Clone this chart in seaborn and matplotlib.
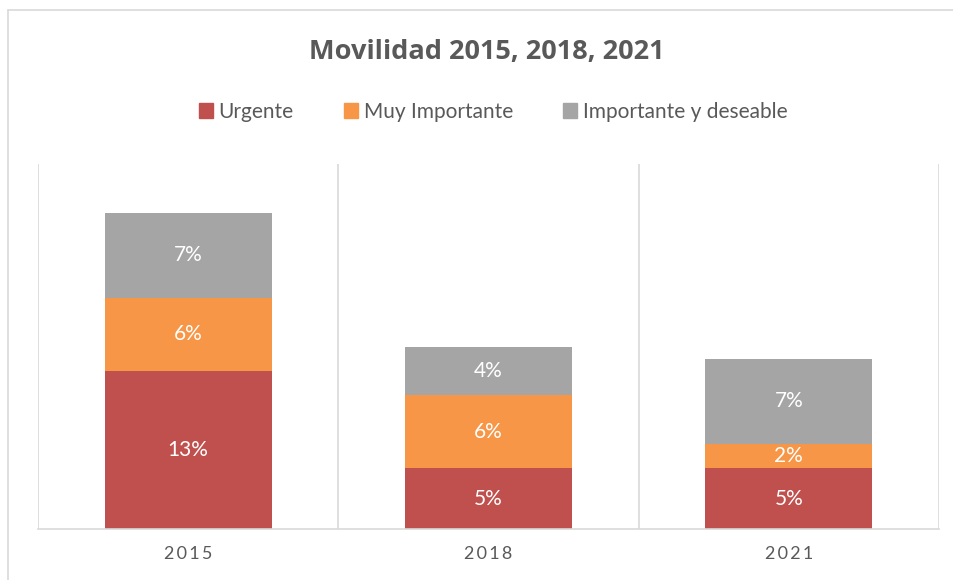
import numpy as np
import pandas as pd
import matplotlib
matplotlib.use("Agg")
import matplotlib.pyplot as plt
from matplotlib.lines import Line2D
import seaborn as sns

# Datos (fracción del total)
years = ["2015", "2018", "2021"]
urgente = [0.130, 0.050, 0.050]
muy_importante = [0.060, 0.060, 0.020]
importante_deseable = [0.070, 0.040, 0.070]

series = ["Urgente", "Muy Importante", "Importante y deseable"]
colors = ["#C0504D", "#F79646", "#A5A5A5"]
text_color = "#595959"
grid_color = "#D9D9D9"

sns.set_theme(style="white")
plt.rcParams["font.family"] = ["Lato", "DejaVu Sans"]

df = pd.DataFrame({
    "year": years,
    "Urgente": urgente,
    "Muy Importante": muy_importante,
    "Importante y deseable": importante_deseable,
})
cum = df[series].cumsum(axis=1)

fig = plt.figure(figsize=(9.54, 5.8), dpi=100)
ax = fig.add_axes([38 / 954, 1 - 529 / 580, (939 - 38) / 954, (529 - 164) / 580])

# Barras apiladas: se dibuja de la más alta a la más baja
for col, color in reversed(list(zip(series, colors))):
    sns.barplot(x=df["year"], y=cum[col], color=color, width=0.556,
                ax=ax, saturation=1, edgecolor="none", zorder=2)

# Etiquetas de valor centradas en cada segmento
for i in range(len(years)):
    base = 0
    for col in series:
        v = df[col].iloc[i]
        ax.text(i, base + v / 2, f"{v:.0%}", ha="center", va="center",
                color="white", fontsize=15, zorder=3)
        base += v

ax.set_xlim(-0.5, 2.5)
ax.set_ylim(0, 0.30)
ax.set_xlabel("")
ax.set_ylabel("")
ax.set_yticks([])
ax.set_xticks(range(len(years)))
ax.set_xticklabels(["\u2009".join(y) for y in years])
ax.tick_params(axis="x", length=0, pad=12, labelsize=13, labelcolor=text_color)

for s in ["top", "right", "left"]:
    ax.spines[s].set_visible(False)
ax.spines["bottom"].set_color(grid_color)
ax.spines["bottom"].set_linewidth(1.2)
for xv in [-0.5, 0.5, 1.5, 2.5]:
    ax.axvline(xv, color=grid_color, linewidth=1.2, zorder=1)

# Título
fig.text(487 / 954, 1 - 52 / 580, "Movilidad 2015, 2018, 2021", ha="center", va="center",
         fontsize=19.5, fontweight="bold", color=text_color,
         family=["Open Sans", "DejaVu Sans"])

# Leyenda
handles = [plt.Rectangle((0, 0), 1, 1, color=c) for c in colors]
fig.legend(handles, series, loc="center", bbox_to_anchor=(493 / 954, 1 - 112 / 580),
           ncol=3, frameon=False, fontsize=15, labelcolor=text_color,
           handlelength=0.7, handleheight=0.7, handletextpad=0.25, columnspacing=2.4)

# Borde del gráfico
fig.add_artist(Line2D([8 / 954, 1], [1 - 10 / 580, 1 - 10 / 580], color=grid_color, linewidth=1.2))
fig.add_artist(Line2D([8 / 954, 8 / 954], [0, 1 - 10 / 580], color=grid_color, linewidth=1.2))

fig.savefig("out.png", dpi=100)
